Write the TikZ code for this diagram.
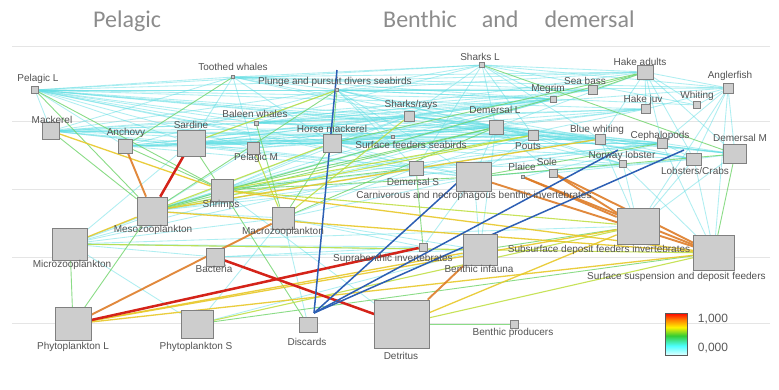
\documentclass[tikz,border=0pt]{standalone}
\usepackage{fontspec}
\setmainfont{Liberation Sans}
\newfontfamily\titlefont{Carlito}
\pgfdeclarelayer{bg}
\pgfdeclarelayer{edges}
\pgfsetlayers{bg,edges,main}
\definecolor{ccy}{RGB}{95,222,228}
\definecolor{cgr}{RGB}{110,212,105}
\definecolor{cyg}{RGB}{190,222,60}
\definecolor{cye}{RGB}{232,200,40}
\definecolor{cor}{RGB}{222,125,40}
\definecolor{cre}{RGB}{212,35,25}
\definecolor{cbl}{RGB}{45,95,180}
\definecolor{boxf}{RGB}{205,205,205}
\definecolor{boxd}{RGB}{128,128,128}
\pgfdeclareverticalshading{heat}{100bp}{color(0bp)=(cyan!12!white); color(25bp)=(cyan!12!white); color(36bp)=(cyan!70!white); color(48bp)=(green!75!black!80!white); color(58bp)=(yellow!90!orange); color(67bp)=(orange); color(75bp)=(red); color(100bp)=(red)}
\tikzset{
  bx/.style={draw=boxd, fill=boxf, line width=0.7pt, inner sep=0pt},
  sq/.style={bx, minimum width=#1, minimum height=#1},
  rc/.style 2 args={bx, minimum width=#1, minimum height=#2},
  lb/.style={font=\fontsize{10}{11}\selectfont, text=black!68, inner sep=0pt},
  ttl/.style={font=\titlefont\fontsize{24}{28}\selectfont, text=black!45, inner sep=0pt, anchor=base west},
  ec/.style={draw=ccy, line width=0.85pt, opacity=0.5},
  eg/.style={draw=cgr, line width=0.9pt, opacity=0.8},
  eyg/.style={draw=cyg, line width=1.1pt, opacity=0.85},
  eye/.style={draw=cye, line width=1.3pt, opacity=0.9},
  eor/.style={draw=cor, line width=1.9pt, opacity=0.9},
  ere/.style={draw=cre, line width=2.5pt},
  ebl/.style={draw=cbl, line width=1.5pt},
  guide/.style={draw=black!10, line width=0.7pt}
}
\begin{document}
\begin{tikzpicture}[x=1pt,y=-1pt]
\useasboundingbox (0,0) rectangle (779,389);
% titles
\node[ttl] (tpel) at (93,27) {Pelagic};
\node[ttl] (tben) at (383,27) {Benthic\hspace{25pt}and\hspace{26pt}demersal};
% boxes
\node[sq=7] (pelL) at (35,90) {};
\node[sq=3] (tooth) at (233,77) {};
\node[sq=3] (plunge) at (337,90) {};
\node[sq=17] (mack) at (51,131) {};
\node[sq=14] (anch) at (125,146) {};
\node[rc={28}{26}] (sard) at (191,143) {};
\node[sq=4] (baleen) at (256,123) {};
\node[sq=12] (pelM) at (253,148) {};
\node[sq=18] (horse) at (332,143) {};
\node[sq=22] (shrimp) at (222,190) {};
\node[rc={30}{28}] (meso) at (152,211) {};
\node[rc={35}{32}] (micro) at (70,244) {};
\node[sq=22] (macro) at (283,218) {};
\node[sq=18] (bact) at (215,257) {};
\node[rc={36}{33}] (phyL) at (73,324) {};
\node[rc={32}{28}] (phyS) at (197,324) {};
\node[rc={18}{15}] (disc) at (308,325) {};
\node[rc={55}{48}] (detr) at (402,324) {};
\node[sq=8] (supra) at (423,247) {};
\node[rc={34}{31}] (infa) at (480,250) {};
\node[sq=8] (bprod) at (514,324) {};
\node[rc={35}{29}] (carn) at (474,177) {};
\node[sq=14] (demS) at (416,168) {};
\node[sq=3] (surfsea) at (393,137) {};
\node[sq=10] (shray) at (409,116) {};
\node[sq=5] (shL) at (482,65) {};
\node[sq=14] (demL) at (496,127) {};
\node[sq=6] (megrim) at (553,99) {};
\node[sq=9] (seab) at (593,90) {};
\node[rc={16}{14}] (hakeA) at (645,72) {};
\node[sq=10] (angl) at (728,88) {};
\node[sq=7] (whit) at (697,105) {};
\node[sq=9] (hakeJ) at (646,109) {};
\node[sq=10] (pouts) at (533,135) {};
\node[sq=10] (bluew) at (600,139) {};
\node[sq=10] (ceph) at (662,143) {};
\node[rc={23}{19}] (demM) at (735,154) {};
\node[sq=7] (norw) at (623,164) {};
\node[rc={15}{12}] (lobs) at (694,159) {};
\node[sq=3] (plaice) at (523,177) {};
\node[sq=8] (sole) at (553,173) {};
\node[rc={42}{36}] (subs) at (638,226) {};
\node[rc={41}{35}] (susp) at (714,253) {};
% labels
\node[lb] (lpelL) at (38,79) {Pelagic L};
\node[lb] (ltooth) at (233,67) {Toothed whales};
\node[lb,anchor=west] (lplunge) at (258,82) {Plunge and pursuit divers seabirds};
\node[lb] (lmack) at (52,120) {Mackerel};
\node[lb] (lanch) at (126,133) {Anchovy};
\node[lb] (lsard) at (191,125) {Sardine};
\node[lb] (lbaleen) at (255,114) {Baleen whales};
\node[lb] (lpelM) at (256,158) {Pelagic M};
\node[lb] (lhorse) at (332,129) {Horse mackerel};
\node[lb] (lshrimp) at (221,205) {Shrimps};
\node[lb] (lmeso) at (153,230) {Mesozooplankton};
\node[lb] (lmicro) at (72,265) {Microzooplankton};
\node[lb] (lmacro) at (283,232) {Macrozooplankton};
\node[lb] (lbact) at (214,269) {Bacteria};
\node[lb] (lphyL) at (73,347) {Phytoplankton L};
\node[lb] (lphyS) at (196,347) {Phytoplankton S};
\node[lb] (ldisc) at (307,342) {Discards};
\node[lb] (ldetr) at (401,356) {Detritus};
\node[lb] (lsupra) at (393,259) {Suprabenthic invertebrates};
\node[lb] (linfa) at (479,269) {Benthic infauna};
\node[lb] (lbprod) at (513,333) {Benthic producers};
\node[lb] (lcarn) at (474,196) {Carnivorous and necrophagous benthic invertebrates};
\node[lb] (ldemS) at (413,182) {Demersal S};
\node[lb] (lsurfsea) at (411,145) {Surface feeders seabirds};
\node[lb] (lshray) at (411,105) {Sharks/rays};
\node[lb] (lshL) at (480,57) {Sharks L};
\node[lb] (ldemL) at (495,110) {Demersal L};
\node[lb] (lmegrim) at (548,89) {Megrim};
\node[lb] (lseab) at (585,81) {Sea bass};
\node[lb] (lhakeA) at (640,62) {Hake adults};
\node[lb] (langl) at (730,76) {Anglerfish};
\node[lb] (lwhit) at (697,96) {Whiting};
\node[lb] (lhakeJ) at (643,100) {Hake juv};
\node[lb] (lpouts) at (528,146) {Pouts};
\node[lb] (lbluew) at (597,130) {Blue whiting};
\node[lb] (lceph) at (660,136) {Cephalopods};
\node[lb] (ldemM) at (740,138) {Demersal M};
\node[lb] (lnorw) at (622,156) {Norway lobster};
\node[lb] (llobs) at (695,171) {Lobsters/Crabs};
\node[lb] (lplaice) at (522,167) {Plaice};
\node[lb] (lsole) at (547,162) {Sole};
\node[lb] (lsubs) at (599,250) {Subsurface deposit feeders invertebrates};
\node[lb,anchor=west] (lsusp) at (587,277) {Surface suspension and deposit feeders};
% legend
\node[shade, shading=heat, draw=black!65, line width=0.9pt, minimum width=22, minimum height=42, inner sep=0pt] (leg) at (676,334) {};
\node[font=\fontsize{12}{13}\selectfont, text=black!65, inner sep=0pt] (leg1) at (713,319) {1,000};
\node[font=\fontsize{12}{13}\selectfont, text=black!65, inner sep=0pt] (leg0) at (713,348) {0,000};
% blue line ends
\coordinate (bo) at (314,313);
\coordinate (btop) at (337,70);
\coordinate (bcarn) at (468,173);
\coordinate (bnorw) at (618,150);
\coordinate (blobs) at (684,150);
\begin{pgfonlayer}{bg}
\fill[white] (0,0) rectangle (779,389);
\foreach \yy in {46,121,189,257,323} \draw[guide] (12,\yy) -- (770,\yy);
\end{pgfonlayer}
\begin{pgfonlayer}{edges}
\foreach \a/\b in {pelL/tooth, pelL/plunge, pelL/sard, pelL/horse, pelL/shray, pelL/demL, pelL/anch, pelL/mack, pelL/pelM, pelL/baleen, pelL/surfsea, pelL/pouts, pelL/megrim, pelL/demS, pelL/shL,
pelL/carn, pelL/hakeA, pelL/seab, pelL/bluew, pelL/hakeJ,
tooth/plunge, tooth/shL, tooth/hakeA, tooth/sard, tooth/mack, tooth/shray, tooth/demL, tooth/angl, tooth/pelM, tooth/horse, tooth/megrim, tooth/seab,
plunge/shL, plunge/hakeA, plunge/seab, plunge/angl, plunge/megrim, plunge/demL, plunge/sard, plunge/anch, plunge/mack, plunge/surfsea, plunge/bluew, plunge/whit, plunge/pouts, plunge/demS, plunge/carn,
baleen/shL, baleen/hakeA, baleen/demL, baleen/megrim, baleen/shray, baleen/seab, baleen/hakeJ, baleen/pouts, baleen/mack, baleen/bluew, baleen/angl,
shL/hakeA, shL/angl, shL/whit, shL/demL, shL/megrim, shL/shray, shL/demS, shL/pouts, shL/bluew,
hakeA/angl, hakeA/demM, hakeA/whit, hakeA/hakeJ, hakeA/bluew, hakeA/ceph, hakeA/demL, hakeA/lobs,
angl/demM, angl/whit, angl/ceph, angl/lobs, angl/susp, angl/subs, angl/hakeJ,
mack/sard, mack/horse, mack/shray, mack/demL, mack/pouts, mack/demS, mack/surfsea, mack/carn, mack/bluew, mack/megrim, mack/seab,
anch/horse, anch/shray, anch/demL, anch/surfsea, anch/megrim, anch/pelM, anch/pouts, anch/bluew, anch/carn,
sard/horse, sard/shray, sard/demL, sard/pouts, sard/surfsea, sard/demS, sard/bluew, sard/megrim, sard/hakeJ, sard/ceph,
horse/shray, horse/demL, horse/pouts, horse/bluew, horse/ceph, horse/demS, horse/carn, horse/megrim, horse/hakeJ, horse/lobs, horse/norw,
shray/demL, shray/pouts, shray/megrim, shray/seab, shray/hakeJ, shray/bluew, shray/ceph, shray/demM, shray/norw, shray/lobs,
demL/pouts, demL/bluew, demL/ceph, demL/hakeJ, demL/demM, demL/lobs, demL/norw, demL/carn, demL/sole,
pouts/bluew, pouts/ceph, pouts/demM, pouts/norw, pouts/lobs,
bluew/ceph, bluew/demM, bluew/lobs, bluew/norw, ceph/demM, ceph/lobs, demM/lobs, demM/subs, lobs/subs, lobs/susp, norw/subs, norw/susp, ceph/susp, bluew/subs,
micro/shrimp, micro/macro, micro/bact, micro/supra, micro/infa, micro/phyS, micro/demS, micro/horse, micro/sard, micro/demL,
meso/macro, meso/shrimp, meso/pelM, meso/demS, meso/carn, meso/surfsea, meso/megrim, meso/hakeJ, meso/ceph,
shrimp/horse, shrimp/shray, shrimp/megrim, shrimp/bluew, shrimp/ceph,
pelM/demL, pelM/horse, pelM/shray, surfsea/demL, surfsea/megrim,
carn/lobs, carn/norw, carn/pouts, demS/pouts, demS/bluew, demS/norw, demS/ceph, sole/lobs, plaice/ceph,
macro/disc, macro/supra, macro/carn, macro/demS, macro/infa,
bact/infa, bact/supra, detr/shrimp, infa/carn, infa/demL, supra/carn, phyS/macro, phyS/infa, micro/subs}
  \draw[ec] (\a) -- (\b);
\foreach \a/\b in {micro/phyL, meso/phyL, pelL/shrimp, pelL/meso, mack/meso, tooth/anch, baleen/macro, shrimp/carn, shrimp/demS, meso/plunge, meso/hakeA, horse/hakeA, carn/ceph, carn/demM, disc/shrimp, detr/bprod, demM/susp, sard/shrimp, anch/shrimp, macro/horse, macro/demL, shrimp/demL, meso/demL, phyS/susp, infa/subs, supra/demS, plunge/horse, shL/demM, seab/hakeA}
  \draw[eg] (\a) -- (\b);
\foreach \a/\b in {pelM/macro, meso/horse, shrimp/subs, plunge/sard, macro/shray, meso/pouts, shrimp/pouts, micro/susp, phyS/subs, detr/susp}
  \draw[eyg] (\a) -- (\b);
\foreach \a/\b in {mack/shrimp, micro/meso, phyL/susp, phyL/subs, detr/subs, meso/susp, meso/bluew, shrimp/susp, phyL/infa}
  \draw[eye] (\a) -- (\b);
\foreach \a/\b in {anch/meso, detr/infa, phyL/macro, plaice/subs, plaice/susp, sole/subs, sole/susp, carn/susp}
  \draw[eor] (\a) -- (\b);
\foreach \a/\b in {sard/meso, phyL/supra, bact/detr}
  \draw[ere] (\a) -- (\b);
\draw[ebl] (bo) -- (btop);
\draw[ebl] (bo) -- (bcarn);
\draw[ebl] (bo) -- (bnorw);
\draw[ebl] (bo) -- (blobs);
\end{pgfonlayer}
\end{tikzpicture}
\end{document}
